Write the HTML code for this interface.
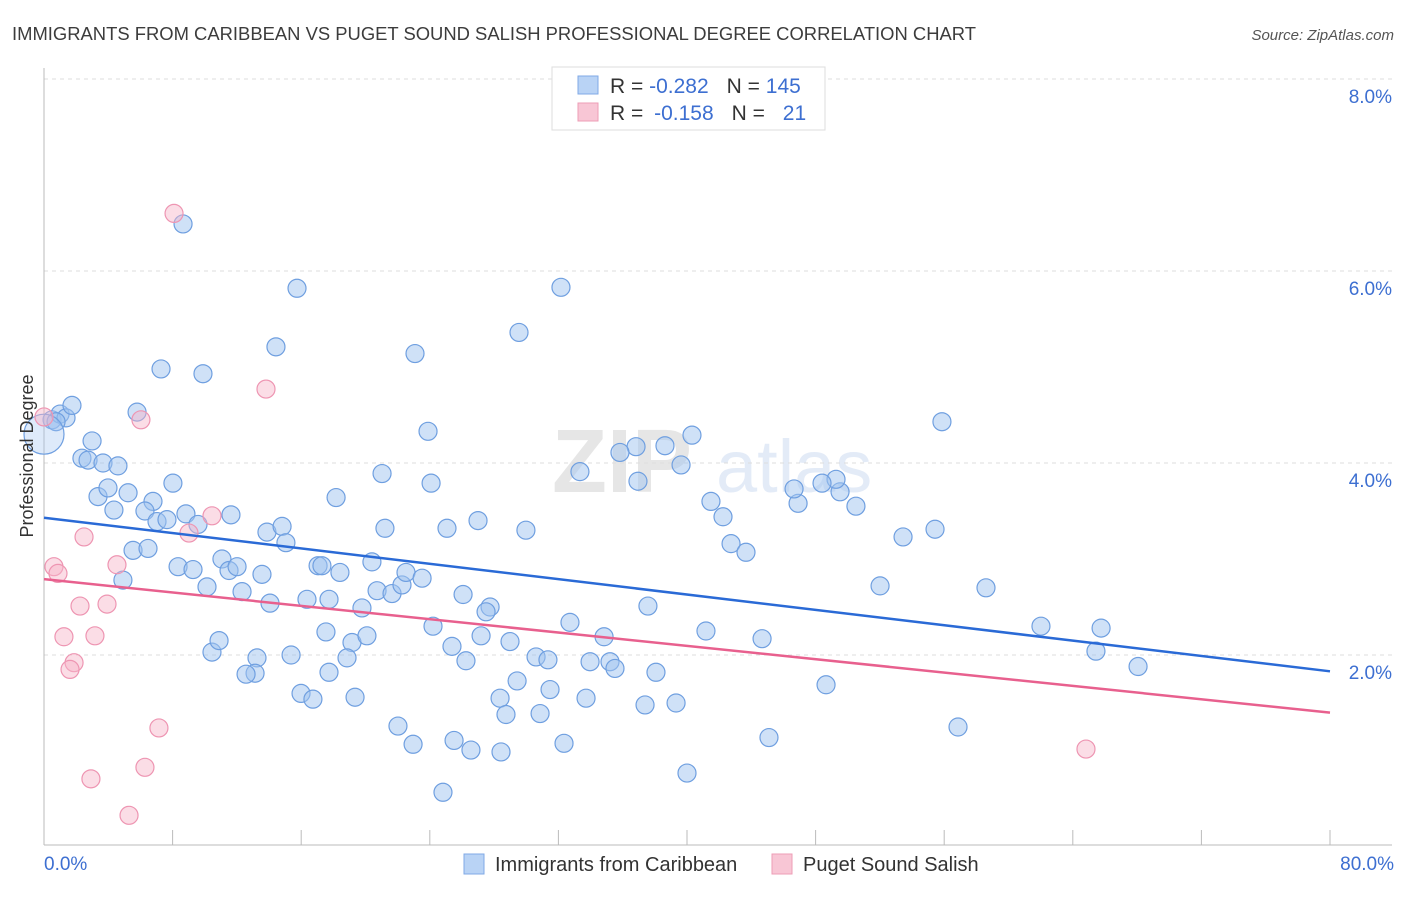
<!DOCTYPE html>
<html><head><meta charset="utf-8"><style>
body{margin:0;background:#fff;font-family:"Liberation Sans",sans-serif;}
svg text{font-family:"Liberation Sans",sans-serif;}
</style></head><body>
<svg id="chart" width="1406" height="892" xmlns="http://www.w3.org/2000/svg">
<text x="12" y="40" font-size="18" fill="#3c3c3c" textLength="964" lengthAdjust="spacingAndGlyphs">IMMIGRANTS FROM CARIBBEAN VS PUGET SOUND SALISH PROFESSIONAL DEGREE CORRELATION CHART</text>
<text x="1394" y="40" font-size="15" fill="#555" text-anchor="end" font-style="italic">Source: ZipAtlas.com</text>
<g opacity="0.18">
<text x="552" y="492" font-size="90" font-family="Liberation Serif" fill="#777" font-weight="bold">ZIP</text>
<text x="716" y="492" font-size="74" fill="#6b95d8">atlas</text>
</g>
<g id="grid"></g><g id="axes"></g><g id="pts"></g><g id="trends"></g>
<text transform="translate(33,456) rotate(-90)" font-size="18" fill="#333" text-anchor="middle">Professional Degree</text>
<g>
<rect x="552" y="67" width="273" height="63" fill="#fff" stroke="#ddd"/>
<rect x="578" y="76" width="20" height="18" fill="#b9d3f5" stroke="#80a9e6"/>
<rect x="578" y="103" width="20" height="18" fill="#f8c6d5" stroke="#ee9db6"/>
<text x="610" y="93" font-size="21" fill="#333">R = <tspan fill="#3d6fd1">-0.282</tspan><tspan dx="18">N = </tspan><tspan fill="#3d6fd1">145</tspan></text>
<text x="610" y="120" font-size="21" fill="#333">R = <tspan fill="#3d6fd1" dx="5">-0.158</tspan><tspan dx="18">N = </tspan><tspan fill="#3d6fd1" dx="12">21</tspan></text>
</g>
<g>
<rect x="464" y="854" width="20" height="20" fill="#b9d3f5" stroke="#80a9e6"/>
<text x="495" y="871" font-size="20" fill="#333">Immigrants from Caribbean</text>
<rect x="772" y="854" width="20" height="20" fill="#f8c6d5" stroke="#ee9db6"/>
<text x="803" y="871" font-size="20" fill="#333">Puget Sound Salish</text>
</g>
</svg>
<script>
const yTicks=[2,4,6,8];
const yTickLabels=["2.0%","4.0%","6.0%","8.0%"];
const xTicks=[0,8,16,24,32,40,48,56,64,72,80];
const xEndLabels=["0.0%","80.0%"];
const blueX=[0.5,1.0,1.37,1.74,0.75,2.99,2.36,2.74,3.67,4.6,5.79,7.28,9.89,8.65,15.74,14.43,3.36,3.98,5.23,4.35,6.78,8.02,6.28,7.03,7.65,8.83,9.58,11.63,5.54,6.47,4.91,8.34,9.27,10.14,11.07,11.51,12.01,12.32,13.56,14.06,13.87,14.81,15.05,16.36,17.05,17.29,18.41,18.17,21.03,21.21,23.08,23.89,24.08,25.07,27.0,29.55,32.16,29.98,20.4,20.72,21.65,22.27,22.52,23.52,19.78,24.2,26.07,27.75,27.5,25.38,26.25,27.19,28.99,30.61,31.35,32.72,34.84,33.97,35.21,35.52,38.07,37.57,41.18,44.67,28.37,29.43,28.74,31.48,30.86,33.72,37.39,39.32,22.02,22.96,25.51,26.56,28.43,32.35,24.82,40.0,45.1,48.65,56.86,65.44,68.06,62.02,65.76,58.6,52.01,53.44,55.43,55.86,50.51,49.52,49.27,48.4,46.91,46.66,42.74,43.67,42.24,41.49,40.31,39.63,38.63,36.95,36.83,35.83,33.34,17.54,19.16,20.09,18.85,17.73,15.37,13.25,13.13,12.57,15.99,16.73,19.35,10.45,10.89,17.73,0.0];
const blueY=[4.45,4.51,4.47,4.6,4.43,4.23,4.05,4.03,4.0,3.97,4.53,4.98,4.93,6.49,5.82,5.21,3.65,3.74,3.69,3.51,3.6,3.79,3.5,3.39,3.41,3.47,3.36,3.46,3.09,3.11,2.78,2.92,2.89,2.71,3.0,2.88,2.92,2.66,2.84,2.54,3.28,3.34,3.17,2.58,2.93,2.93,2.86,3.64,3.89,3.32,5.14,4.33,3.79,3.32,3.4,5.36,5.83,3.3,2.97,2.67,2.64,2.73,2.86,2.8,2.49,2.3,2.63,2.5,2.45,2.09,1.94,2.2,2.14,1.98,1.95,2.34,2.19,1.93,1.93,1.86,1.82,2.51,2.25,2.17,1.55,1.73,1.38,1.64,1.39,1.55,1.48,1.5,1.26,1.07,1.11,1.01,0.99,1.08,0.57,0.77,1.14,1.69,1.25,2.04,1.88,2.3,2.28,2.7,2.72,3.23,3.31,4.43,3.55,3.7,3.83,3.79,3.58,3.73,3.16,3.07,3.44,3.6,4.29,3.98,4.18,3.81,4.17,4.11,3.91,2.24,2.13,2.2,1.97,1.82,2.0,1.97,1.81,1.8,1.6,1.54,1.56,2.03,2.15,2.58,4.3];
const pinkX=[0,8.09,13.81,6.03,10.45,2.49,9.02,0.62,0.87,4.54,2.24,3.92,1.24,3.17,1.87,1.62,7.15,6.28,2.92,5.29,64.82];
const pinkY=[4.48,6.6,4.77,4.45,3.45,3.23,3.27,2.92,2.85,2.94,2.51,2.53,2.19,2.2,1.92,1.85,1.24,0.83,0.71,0.33,1.02];
const blueTrend=[3.43,1.83];
const pinkTrend=[2.79,1.40];
const NS="http://www.w3.org/2000/svg";
const X0=44,X1=1330,YB=847,YT=79;
const sx=v=>X0+(v/80)*(X1-X0);
const sy=v=>YB-(v/8)*(YB-YT);
function mk(t,a,p){const e=document.createElementNS(NS,t);for(const k in a)e.setAttribute(k,a[k]);document.getElementById(p).appendChild(e);return e;}
yTicks.forEach((v,i)=>{
 const l=mk('line',{x1:X0,x2:1392,y1:sy(v),y2:sy(v),stroke:'#ddd','stroke-dasharray':'4,4'},'grid');
 
 
 const t=mk('text',{x:1392,y:sy(v)+24,'font-size':19,fill:'#3d6fd1','text-anchor':'end'},'grid');
 
 
 t.textContent=yTickLabels[i];
});
let ax=mk('line',{x1:X0,x2:X0,y1:68,y2:845,stroke:'#bbb'},'axes');


ax=mk('line',{x1:X0,x2:1392,y1:845,y2:845,stroke:'#bbb'},'axes');


xTicks.forEach(v=>{
 const l=mk('line',{x1:sx(v),x2:sx(v),y1:830,y2:845,stroke:'#bbb'},'axes');
 
 
});
[[0,'start',X0],[1,'end',1394]].forEach(([i,a,x])=>{
 const t=mk('text',{x:x,y:870,'font-size':19,fill:'#3d6fd1','text-anchor':a},'axes');
 
 
 t.textContent=xEndLabels[i];
});
blueX.forEach((v,i)=>{
 const big=i===blueX.length-1;
 const c=mk('circle',{cx:sx(v),cy:sy(blueY[i]),r:big?20:9,fill:big?'rgba(160,195,240,0.35)':'rgba(160,195,240,0.5)',stroke:'#6f9fe0','stroke-width':1.2},'pts');
 
 
});
pinkX.forEach((v,i)=>{
 const c=mk('circle',{cx:sx(v),cy:sy(pinkY[i]),r:9,fill:'rgba(246,180,200,0.45)',stroke:'#ee95b2','stroke-width':1.2},'pts');
 
 
});
let tl=mk('line',{x1:sx(0),x2:sx(80),y1:sy(blueTrend[0]),y2:sy(blueTrend[1]),stroke:'#2a6ad6','stroke-width':2.5},'trends');


tl=mk('line',{x1:sx(0),x2:sx(80),y1:sy(pinkTrend[0]),y2:sy(pinkTrend[1]),stroke:'#e8608e','stroke-width':2.5},'trends');


</script>
</body></html>
